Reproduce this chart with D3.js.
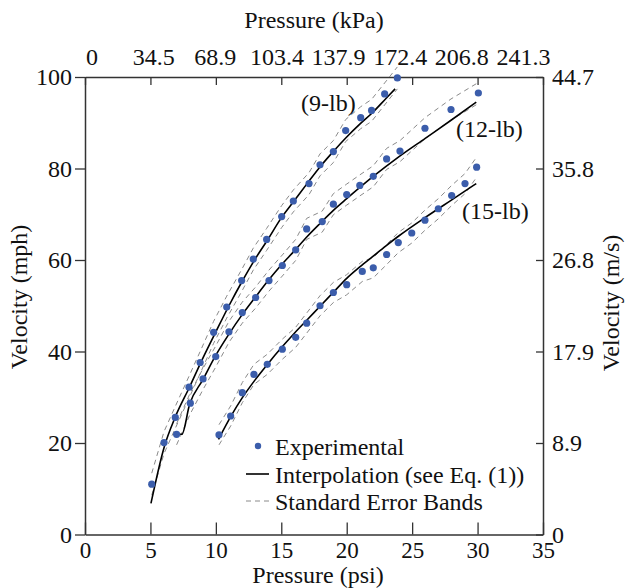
<!DOCTYPE html>
<html>
<head>
<meta charset="utf-8">
<script src="https://cdn.jsdelivr.net/npm/d3@7"></script>
<style>
    body { margin: 0; background: #fff; }
    svg text { font-family: "Liberation Serif", "Times New Roman", serif; fill: #111; }
</style>
</head>
<body>
<script>
// données
var psi9 = [5.1, 6.04, 6.9, 7.95, 8.8, 9.83, 10.83, 11.97, 12.86, 13.88, 15.03, 15.92, 17.12, 17.96, 18.98, 19.92, 21.07, 21.9, 22.9, 23.87];
var mph9 = [11.0, 20.1, 25.6, 32.2, 37.6, 44.2, 49.7, 55.5, 60.2, 64.5, 69.5, 72.9, 76.7, 80.8, 83.7, 88.3, 91.1, 92.7, 96.3, 99.8];

var psi12 = [7.0, 8.05, 9.02, 9.99, 11.0, 12.02, 13.04, 14.06, 15.08, 16.1, 16.94, 18.13, 18.98, 20.0, 21.0, 22.03, 23.05, 24.07, 25.98, 27.97, 30.06];
var mph12 = [21.9, 28.7, 34.0, 38.9, 44.3, 48.5, 51.8, 55.5, 58.8, 62.2, 66.8, 68.4, 72.2, 74.3, 76.3, 78.3, 82.1, 83.8, 88.8, 92.9, 96.5];

var psi15 = [10.24, 11.13, 12.02, 12.91, 13.93, 15.08, 16.1, 16.94, 17.96, 18.98, 20.0, 21.19, 22.03, 23.05, 23.94, 24.97, 25.98, 27.0, 28.02, 29.04, 29.93];
var mph15 = [21.8, 25.9, 31.0, 35.0, 37.2, 40.5, 43.1, 46.2, 50.0, 52.9, 54.6, 57.5, 58.3, 61.2, 63.8, 65.9, 68.7, 71.2, 74.1, 76.7, 80.3];

// courbes d'interpolation (lues aussi)
var fitP9 = [5.04, 6.06, 6.9, 8, 9, 10, 11, 12, 13, 14, 15, 16, 17, 18, 19, 20, 21, 22, 23, 23.7];
var fitV9 = [6.8, 19.2, 25.7, 32.3, 38.5, 44.3, 50.0, 55.3, 60.2, 64.6, 69.2, 73.0, 76.8, 80.5, 83.8, 86.9, 89.7, 92.3, 95.3, 97.4];

var fitP12 = [7.0, 7.4, 8, 9, 10, 11, 12, 13, 14, 15, 16, 17, 18, 19, 20, 22, 24, 26, 28, 29.9];
var fitV12 = [21.9, 21.9, 28.5, 33.8, 39.2, 43.8, 48.0, 51.8, 55.5, 58.9, 62.0, 65.2, 68.1, 70.9, 73.4, 78.2, 82.6, 86.6, 90.6, 94.5];

var fitP15 = [10.2, 11.2, 12, 13, 14, 15, 16, 17, 18, 19, 20, 21, 22, 23, 24, 26, 28, 29.9];
var fitV15 = [20.8, 26.1, 29.8, 33.8, 37.4, 40.8, 44.0, 47.0, 50.0, 53.0, 56.0, 58.5, 60.8, 63.1, 65.3, 69.3, 73.1, 76.7];

// erreur standard (mph)
var se9 = 2.4;
var se12 = 2.3;
var se15 = 2.2;

var seriesNames = ["(9-lb)", "(12-lb)", "(15-lb)"];
var legendLabels = ["Experimental", "Interpolation (see Eq. (1))", "Standard Error Bands"];

var psiTicks = [0, 5, 10, 15, 20, 25, 30, 35];
var kpaTicks = [0, 34.5, 68.9, 103.4, 137.9, 172.4, 206.8, 241.3];
var mphTicks = [0, 20, 40, 60, 80, 100];
var msLabels = ["0", "8.9", "17.9", "26.8", "35.8", "44.7"];

var width = 634;
var height = 588;
var fontSize = 24;

var svg = d3.select("body")
    .append("svg")
    .attr("width", width)
    .attr("height", height);

var xscale = d3.scaleLinear()
    .domain([0, 35])
    .range([85, 543]);

// l'échelle kPa du haut n'est pas alignée sur les graduations psi
var kscale = d3.scaleLinear()
    .domain([0, 241.3])
    .range([91.5, 523]);

var yscale = d3.scaleLinear()
    .domain([0, 100])
    .range([534.5, 77]);

// axes
function styleAxis(g, taille) {
    g.select(".domain").attr("stroke", "#333").attr("stroke-width", 1.5);
    g.selectAll(".tick line").attr("stroke", "#333").attr("stroke-width", 1.3);
    g.selectAll(".tick text")
        .attr("font-size", taille || fontSize)
        .attr("fill", "#111");
}

var axeBas = svg.append("g")
    .attr("transform", "translate(0," + yscale(0) + ")")
    .call(d3.axisBottom(xscale).tickValues(psiTicks).tickFormat(d3.format("d"))
        .tickSizeInner(-12).tickSizeOuter(0).tickPadding(7));
styleAxis(axeBas, 23);

var axeHaut = svg.append("g")
    .attr("transform", "translate(0," + yscale(100) + ")")
    .call(d3.axisTop(xscale).tickValues(psiTicks).tickFormat("")
        .tickSizeInner(-8).tickSizeOuter(0));
styleAxis(axeHaut);

var labelsHaut = svg.append("g")
    .attr("transform", "translate(0," + yscale(100) + ")")
    .call(d3.axisTop(kscale).tickValues(kpaTicks)
        .tickFormat(function (d) { return d === 0 ? "0" : d3.format(".1f")(d); })
        .tickSize(0).tickPadding(12));
labelsHaut.select(".domain").remove();
styleAxis(labelsHaut);

var axeGauche = svg.append("g")
    .attr("transform", "translate(" + xscale(0) + ",0)")
    .call(d3.axisLeft(yscale).tickValues(mphTicks).tickFormat(d3.format("d"))
        .tickSizeInner(10).tickSizeOuter(0).tickPadding(3));
styleAxis(axeGauche);

var axeDroit = svg.append("g")
    .attr("transform", "translate(" + xscale(35) + ",0)")
    .call(d3.axisRight(yscale).tickValues(mphTicks)
        .tickFormat(function (d, i) { return msLabels[i]; })
        .tickSizeInner(-7).tickSizeOuter(0).tickPadding(9));
styleAxis(axeDroit);

// titres des axes
svg.append("text")
    .attr("x", 314).attr("y", 28)
    .attr("text-anchor", "middle")
    .attr("font-size", fontSize)
    .text("Pressure (kPa)");

svg.append("text")
    .attr("x", 318).attr("y", 583)
    .attr("text-anchor", "middle")
    .attr("font-size", fontSize)
    .text("Pressure (psi)");

svg.append("text")
    .attr("transform", "translate(27,297) rotate(-90)")
    .attr("text-anchor", "middle")
    .attr("font-size", fontSize)
    .text("Velocity (mph)");

svg.append("text")
    .attr("transform", "translate(619,303) rotate(-90)")
    .attr("text-anchor", "middle")
    .attr("font-size", fontSize)
    .text("Velocity (m/s)");

// tracé des séries
var series = [
    { p: psi9, v: mph9, fp: fitP9, fv: fitV9, se: se9 },
    { p: psi12, v: mph12, fp: fitP12, fv: fitV12, se: se12 },
    { p: psi15, v: mph15, fp: fitP15, fv: fitV15, se: se15 }
];

var line = d3.line()
    .x(function (d) { return xscale(d[0]); })
    .y(function (d) { return yscale(d[1]); });

var courbe = d3.line()
    .curve(d3.curveMonotoneX)
    .x(function (d) { return xscale(d[0]); })
    .y(function (d) { return yscale(d[1]); });

var plot = svg.append("g");

series.forEach(function (s) {
    var upper = s.p.map(function (p, i) { return [p, s.v[i] + s.se]; });
    var lower = s.p.map(function (p, i) { return [p, s.v[i] - s.se]; });
    [upper, lower].forEach(function (b) {
        plot.append("path")
            .attr("d", line(b))
            .attr("fill", "none")
            .attr("stroke", "#8a8a8a")
            .attr("stroke-width", 1)
            .attr("stroke-dasharray", "5,4");
    });
});

series.forEach(function (s) {
    var fit = s.fp.map(function (p, i) { return [p, s.fv[i]]; });
    plot.append("path")
        .attr("d", courbe(fit))
        .attr("fill", "none")
        .attr("stroke", "#000")
        .attr("stroke-width", 1.6);
});

series.forEach(function (s) {
    plot.append("g")
        .selectAll("circle")
        .data(s.p)
        .enter()
        .append("circle")
        .attr("cx", function (d) { return xscale(d); })
        .attr("cy", function (d, i) { return yscale(s.v[i]); })
        .attr("r", 3.6)
        .style("fill", "#3b5dab");
});

// étiquettes des séries
var labelPos = [[301, 111], [456, 137], [462, 219]];
svg.selectAll(".serie")
    .data(seriesNames)
    .enter()
    .append("text")
    .attr("class", "serie")
    .attr("x", function (d, i) { return labelPos[i][0]; })
    .attr("y", function (d, i) { return labelPos[i][1]; })
    .attr("font-size", fontSize)
    .text(function (d) { return d; });

// légende
var lg = svg.append("g").attr("transform", "translate(246,446)");
lg.append("circle").attr("cx", 12).attr("cy", 0).attr("r", 3.2).style("fill", "#3b5dab");
lg.append("line").attr("x1", 0).attr("x2", 23).attr("y1", 28).attr("y2", 28)
    .attr("stroke", "#000").attr("stroke-width", 1.6);
lg.append("line").attr("x1", 0).attr("x2", 23).attr("y1", 55).attr("y2", 55)
    .attr("stroke", "#8a8a8a").attr("stroke-width", 1).attr("stroke-dasharray", "5,4");
lg.selectAll("text")
    .data(legendLabels)
    .enter()
    .append("text")
    .attr("x", 29)
    .attr("y", function (d, i) { return 9 + i * 27.5; })
    .attr("font-size", fontSize)
    .text(function (d) { return d; });
</script>
</body>
</html>
